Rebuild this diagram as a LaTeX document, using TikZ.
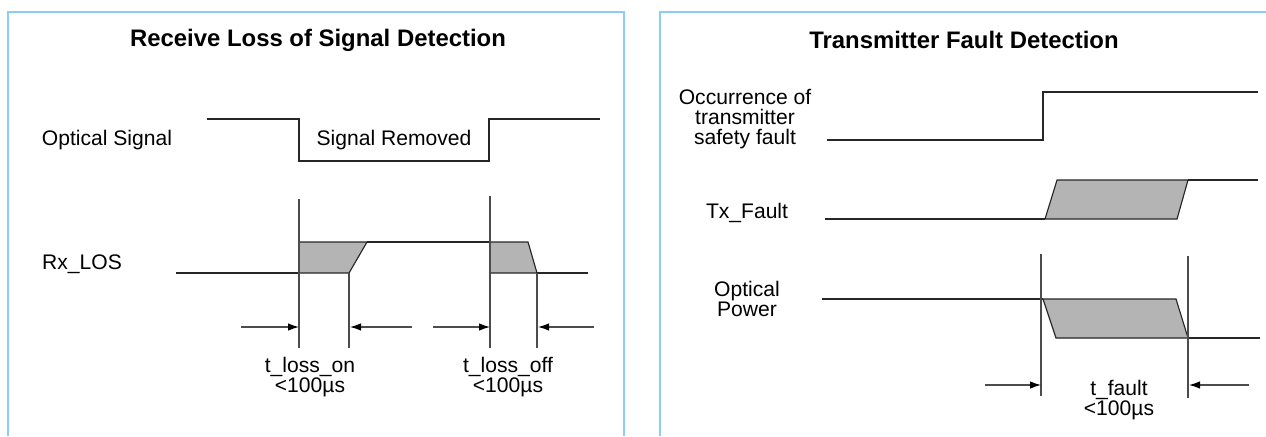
\documentclass[tikz,border=0pt]{standalone}
\usepackage{fontspec}
\setmainfont{Liberation Sans}
\usetikzlibrary{arrows.meta}
\definecolor{framecol}{RGB}{140,205,245}
\definecolor{pulsefill}{RGB}{180,180,180}
\tikzset{
  sig/.style={line width=0.65pt,black!85},
  marker/.style={line width=0.65pt,black!70},
  pulse/.style={sig,fill=pulsefill},
  dim/.style={line width=0.65pt,black!70,-{Latex[length=2.2mm,width=1.5mm,black]}},
  lbl/.style={font=\fontsize{12}{11.2}\selectfont,align=center,inner sep=0pt},
  heading/.style={font=\fontsize{13.6}{16}\selectfont\bfseries,inner sep=0pt}
}
\begin{document}
\begin{tikzpicture}[x=0.02cm,y=-0.02cm]
	\useasboundingbox (0,0) rectangle (1266,436);
	
	% frames
	\draw[framecol,line width=0.7pt] (8,436) -- (8,12) -- (624,12) -- (624,436);
	\draw[framecol,line width=0.7pt] (660,436) -- (660,12) -- (1266,12);
	
	% receive loss of signal
	\node[heading] (losTitle) at (318,40) {Receive Loss of Signal Detection};
	\node[lbl] (optSignal) at (107,140) {Optical Signal};
	\node[lbl] (sigRemoved) at (394,140) {Signal Removed};
	\node[lbl] (rxLos) at (82,264) {Rx\_LOS};
	\node[lbl] (lossOn) at (310,377) {t\_loss\_on\\<100µs};
	\node[lbl] (lossOff) at (508,377) {t\_loss\_off\\<100µs};
	
	\draw[sig] (207,119) -- (299,119) -- (299,161) -- (489,161) -- (489,119) -- (600,119);
	
	\draw[pulse] (299,273) -- (299,242) -- (367,242) -- (349,273) -- cycle;
	\draw[pulse] (490,242) -- (528,242) -- (537,273) -- (490,273) -- cycle;
	\draw[sig] (176,273) -- (299,273);
	\draw[sig] (367,242) -- (490,242);
	\draw[sig] (537,273) -- (588,273);
	
	\draw[marker] (299,199) -- (299,348);
	\draw[marker] (490,196) -- (490,348);
	\draw[marker] (349,273) -- (349,348);
	\draw[marker] (537,273) -- (537,348);
	
	\coordinate (onFrom) at (241,327);
	\coordinate (onTo) at (299,327);
	\coordinate (onBackFrom) at (412,327);
	\coordinate (onBackTo) at (350,327);
	\coordinate (offFrom) at (433,327);
	\coordinate (offTo) at (490,327);
	\coordinate (offBackFrom) at (594,327);
	\coordinate (offBackTo) at (538,327);
	\draw[dim] (onFrom) -- (onTo);
	\draw[dim] (onBackFrom) -- (onBackTo);
	\draw[dim] (offFrom) -- (offTo);
	\draw[dim] (offBackFrom) -- (offBackTo);
	
	% transmitter fault
	\node[heading] (txTitle) at (964,40) {Transmitter Fault Detection};
	\node[lbl] (occurrence) at (745,119) {Occurrence of\\transmitter\\safety fault};
	\node[lbl] (txFault) at (747,213) {Tx\_Fault};
	\node[lbl] (optPower) at (747,299) {Optical\\Power};
	\node[lbl] (faultTime) at (1119,400) {t\_fault\\<100µs};
	
	\draw[sig] (827,140) -- (1043,140) -- (1043,92) -- (1258,92);
	
	\draw[pulse] (1045,219) -- (1057,180) -- (1188,180) -- (1177,219) -- cycle;
	\draw[sig] (825,219) -- (1045,219);
	\draw[sig] (1188,180) -- (1258,180);
	
	\draw[pulse] (1043,299) -- (1176,299) -- (1188,338) -- (1056,338) -- cycle;
	\draw[sig] (822,299) -- (1043,299);
	\draw[sig] (1188,338) -- (1260,338);
	
	\draw[marker] (1041,254) -- (1041,396);
	\draw[marker] (1188,256) -- (1188,398);
	
	\coordinate (faultFrom) at (985,385);
	\coordinate (faultTo) at (1041,385);
	\coordinate (faultBackFrom) at (1249,385);
	\coordinate (faultBackTo) at (1189,385);
	\draw[dim] (faultFrom) -- (faultTo);
	\draw[dim] (faultBackFrom) -- (faultBackTo);
\end{tikzpicture}
\end{document}
